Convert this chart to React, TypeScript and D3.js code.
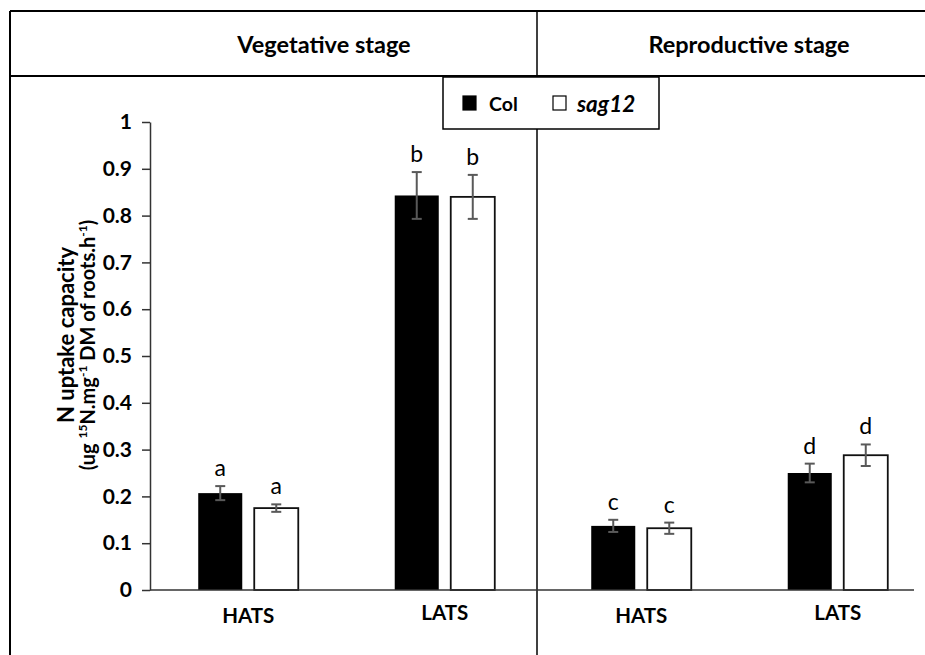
import * as d3 from "d3";
import { useEffect, useRef } from "react";

const stages = ["Vegetative stage", "Reproductive stage"];
const groups = ["veg-HATS", "veg-LATS", "rep-HATS", "rep-LATS"];
const groupLabels = ["HATS", "LATS", "HATS", "LATS"];
const seriesNames = ["Col", "sag12"];

const colValues = [0.207, 0.843, 0.137, 0.25];
const colErrors = [0.015, 0.05, 0.013, 0.02];
const sagValues = [0.175, 0.84, 0.132, 0.288];
const sagErrors = [0.008, 0.047, 0.012, 0.023];
const colLetters = ["a", "b", "c", "d"];
const sagLetters = ["a", "b", "c", "d"];

const yTicks = [0, 0.1, 0.2, 0.3, 0.4, 0.5, 0.6, 0.7, 0.8, 0.9, 1];

const W = 925;
const H = 655;
const FONT = "Lato, 'Open Sans', sans-serif";

type Bar = { group: string; series: string; value: number; err: number; letter: string };

export default function App() {
  const ref = useRef<SVGSVGElement | null>(null);

  useEffect(() => {
    const el = ref.current;
    if (!el) return;
    const svg = d3.select<SVGSVGElement, unknown>(el);
    svg.selectAll("*").remove();

    const frame = { left: 10, top: 11, header: 76, divider: 537 };
    const margin = { left: 150, top: 122, bottom: 590, axisEnd: 914 };

    const bars: Bar[] = [];
    groups.forEach((g, i) => {
      bars.push({ group: g, series: "Col", value: colValues[i], err: colErrors[i], letter: colLetters[i] });
      bars.push({ group: g, series: "sag12", value: sagValues[i], err: sagErrors[i], letter: sagLetters[i] });
    });

    const x0 = d3.scaleBand<string>().domain(groups).range([margin.left, 936]).padding(0);
    const x1 = d3
      .scaleBand<string>()
      .domain(seriesNames)
      .range([0, x0.bandwidth()])
      .paddingInner(0.214)
      .paddingOuter(0.861);
    const y = d3.scaleLinear().domain([0, 1]).range([margin.bottom, margin.top]);

    svg.append("rect").attr("width", W).attr("height", H).attr("fill", "#fff");

    // frame
    const frameG = svg.append("g").attr("stroke", "#000").attr("stroke-width", 2);
    frameG.append("line").attr("x1", frame.left).attr("x2", frame.left).attr("y1", frame.top).attr("y2", H);
    frameG.append("line").attr("x1", frame.left).attr("x2", W).attr("y1", frame.top).attr("y2", frame.top);
    frameG.append("line").attr("x1", frame.left).attr("x2", W).attr("y1", frame.header).attr("y2", frame.header);
    frameG
      .append("line")
      .attr("x1", frame.divider)
      .attr("x2", frame.divider)
      .attr("y1", frame.top)
      .attr("y2", H)
      .attr("stroke-width", 1.5);

    // stage headers
    const headerX = [324, 749];
    svg
      .append("g")
      .selectAll("text")
      .data(stages)
      .enter()
      .append("text")
      .attr("x", (_, i) => headerX[i])
      .attr("y", 44)
      .attr("text-anchor", "middle")
      .attr("dominant-baseline", "central")
      .attr("font-family", FONT)
      .attr("font-weight", 700)
      .attr("font-size", 23.5)
      .text((d) => d);

    // y axis
    const yAxis = svg
      .append("g")
      .attr("transform", `translate(${margin.left},0)`)
      .call(d3.axisLeft(y).tickValues(yTicks).tickSize(8).tickSizeOuter(0).tickPadding(10).tickFormat((d) => String(d)));
    yAxis.selectAll("path,line").attr("stroke", "#333").attr("stroke-width", 1.5);
    yAxis
      .selectAll("text")
      .attr("fill", "#000")
      .attr("font-family", FONT)
      .attr("font-weight", 700)
      .attr("font-size", 21);

    // y title
    const title = svg
      .append("text")
      .attr("transform", `translate(74,335) rotate(-90)`)
      .attr("text-anchor", "middle")
      .attr("font-family", FONT)
      .attr("font-weight", 700)
      .attr("font-size", 22)
      .attr("fill", "#000");
    title.append("tspan").attr("x", 0).attr("y", 0).text("N uptake capacity");
    const t2 = svg
      .append("text")
      .attr("transform", `translate(95,345) rotate(-90)`)
      .attr("text-anchor", "middle")
      .attr("font-family", FONT)
      .attr("font-weight", 700)
      .attr("font-size", 20)
      .attr("fill", "#000");
    t2.append("tspan").text("(ug ");
    t2.append("tspan").attr("font-size", 12).attr("dy", -8).text("15");
    t2.append("tspan").attr("dy", 8).text("N.mg");
    t2.append("tspan").attr("font-size", 12).attr("dy", -8).text("-1");
    t2.append("tspan").attr("dy", 8).text(" DM of roots.h");
    t2.append("tspan").attr("font-size", 12).attr("dy", -8).text("-1");
    t2.append("tspan").attr("dy", 8).text(")");

    // bars
    const bx = (d: Bar) => (x0(d.group) ?? 0) + (x1(d.series) ?? 0);
    svg
      .append("g")
      .selectAll("rect")
      .data(bars)
      .enter()
      .append("rect")
      .attr("x", (d) => bx(d))
      .attr("y", (d) => y(d.value))
      .attr("width", x1.bandwidth())
      .attr("height", (d) => y(0) - y(d.value))
      .attr("fill", (d) => (d.series === "Col" ? "#000" : "#fff"))
      .attr("stroke", (d) => (d.series === "Col" ? "none" : "#111"))
      .attr("stroke-width", 1.8);

    // x axis
    svg
      .append("line")
      .attr("x1", margin.left)
      .attr("x2", margin.axisEnd)
      .attr("y1", y(0))
      .attr("y2", y(0))
      .attr("stroke", "#333")
      .attr("stroke-width", 1.5);

    // error bars
    const eb = svg.append("g").attr("stroke", "#595959").attr("stroke-width", 2);
    bars.forEach((d) => {
      const cx = bx(d) + x1.bandwidth() / 2;
      const top = y(d.value + d.err);
      const bot = y(d.value - d.err);
      eb.append("line").attr("x1", cx).attr("x2", cx).attr("y1", top).attr("y2", bot);
      eb.append("line").attr("x1", cx - 5).attr("x2", cx + 5).attr("y1", top).attr("y2", top);
      eb.append("line").attr("x1", cx - 5).attr("x2", cx + 5).attr("y1", bot).attr("y2", bot);
    });

    // letters
    svg
      .append("g")
      .selectAll("text")
      .data(bars)
      .enter()
      .append("text")
      .attr("x", (d) => bx(d) + x1.bandwidth() / 2)
      .attr("y", (d) => y(d.value + d.err) - 10)
      .attr("text-anchor", "middle")
      .attr("font-family", FONT)
      .attr("font-size", 23)
      .attr("fill", "#000")
      .text((d) => d.letter);

    // x labels
    svg
      .append("g")
      .selectAll("text")
      .data(groups)
      .enter()
      .append("text")
      .attr("x", (d) => (x0(d) ?? 0) + x0.bandwidth() / 2)
      .attr("y", (_, i) => (groupLabels[i] === "LATS" ? 620 : 623))
      .attr("text-anchor", "middle")
      .attr("font-family", FONT)
      .attr("font-weight", 700)
      .attr("font-size", 20.5)
      .text((_, i) => groupLabels[i]);

    // legend
    const lg = svg.append("g");
    lg.append("rect")
      .attr("x", 443)
      .attr("y", 77)
      .attr("width", 216)
      .attr("height", 52)
      .attr("fill", "#fff")
      .attr("stroke", "#000")
      .attr("stroke-width", 1.5);
    const items = [
      { name: "Col", sx: 463, tx: 489, fill: "#000", italic: false, size: 19.5 },
      { name: "sag12", sx: 553, tx: 577, fill: "#fff", italic: true, size: 22.5 },
    ];
    items.forEach((it) => {
      lg.append("rect")
        .attr("x", it.sx)
        .attr("y", 96)
        .attr("width", 13)
        .attr("height", 14)
        .attr("fill", it.fill)
        .attr("stroke", "#000")
        .attr("stroke-width", 1.2);
      lg.append("text")
        .attr("x", it.tx)
        .attr("y", 103)
        .attr("dominant-baseline", "central")
        .attr("font-family", FONT)
        .attr("font-weight", 700)
        .attr("font-style", it.italic ? "italic" : "normal")
        .attr("font-size", it.size)
        .text(it.name);
    });
  }, []);

  return (
    <svg
      ref={ref}
      width={W}
      height={H}
      style={{ position: "absolute", left: 0, top: 0, display: "block" }}
    />
  );
}
